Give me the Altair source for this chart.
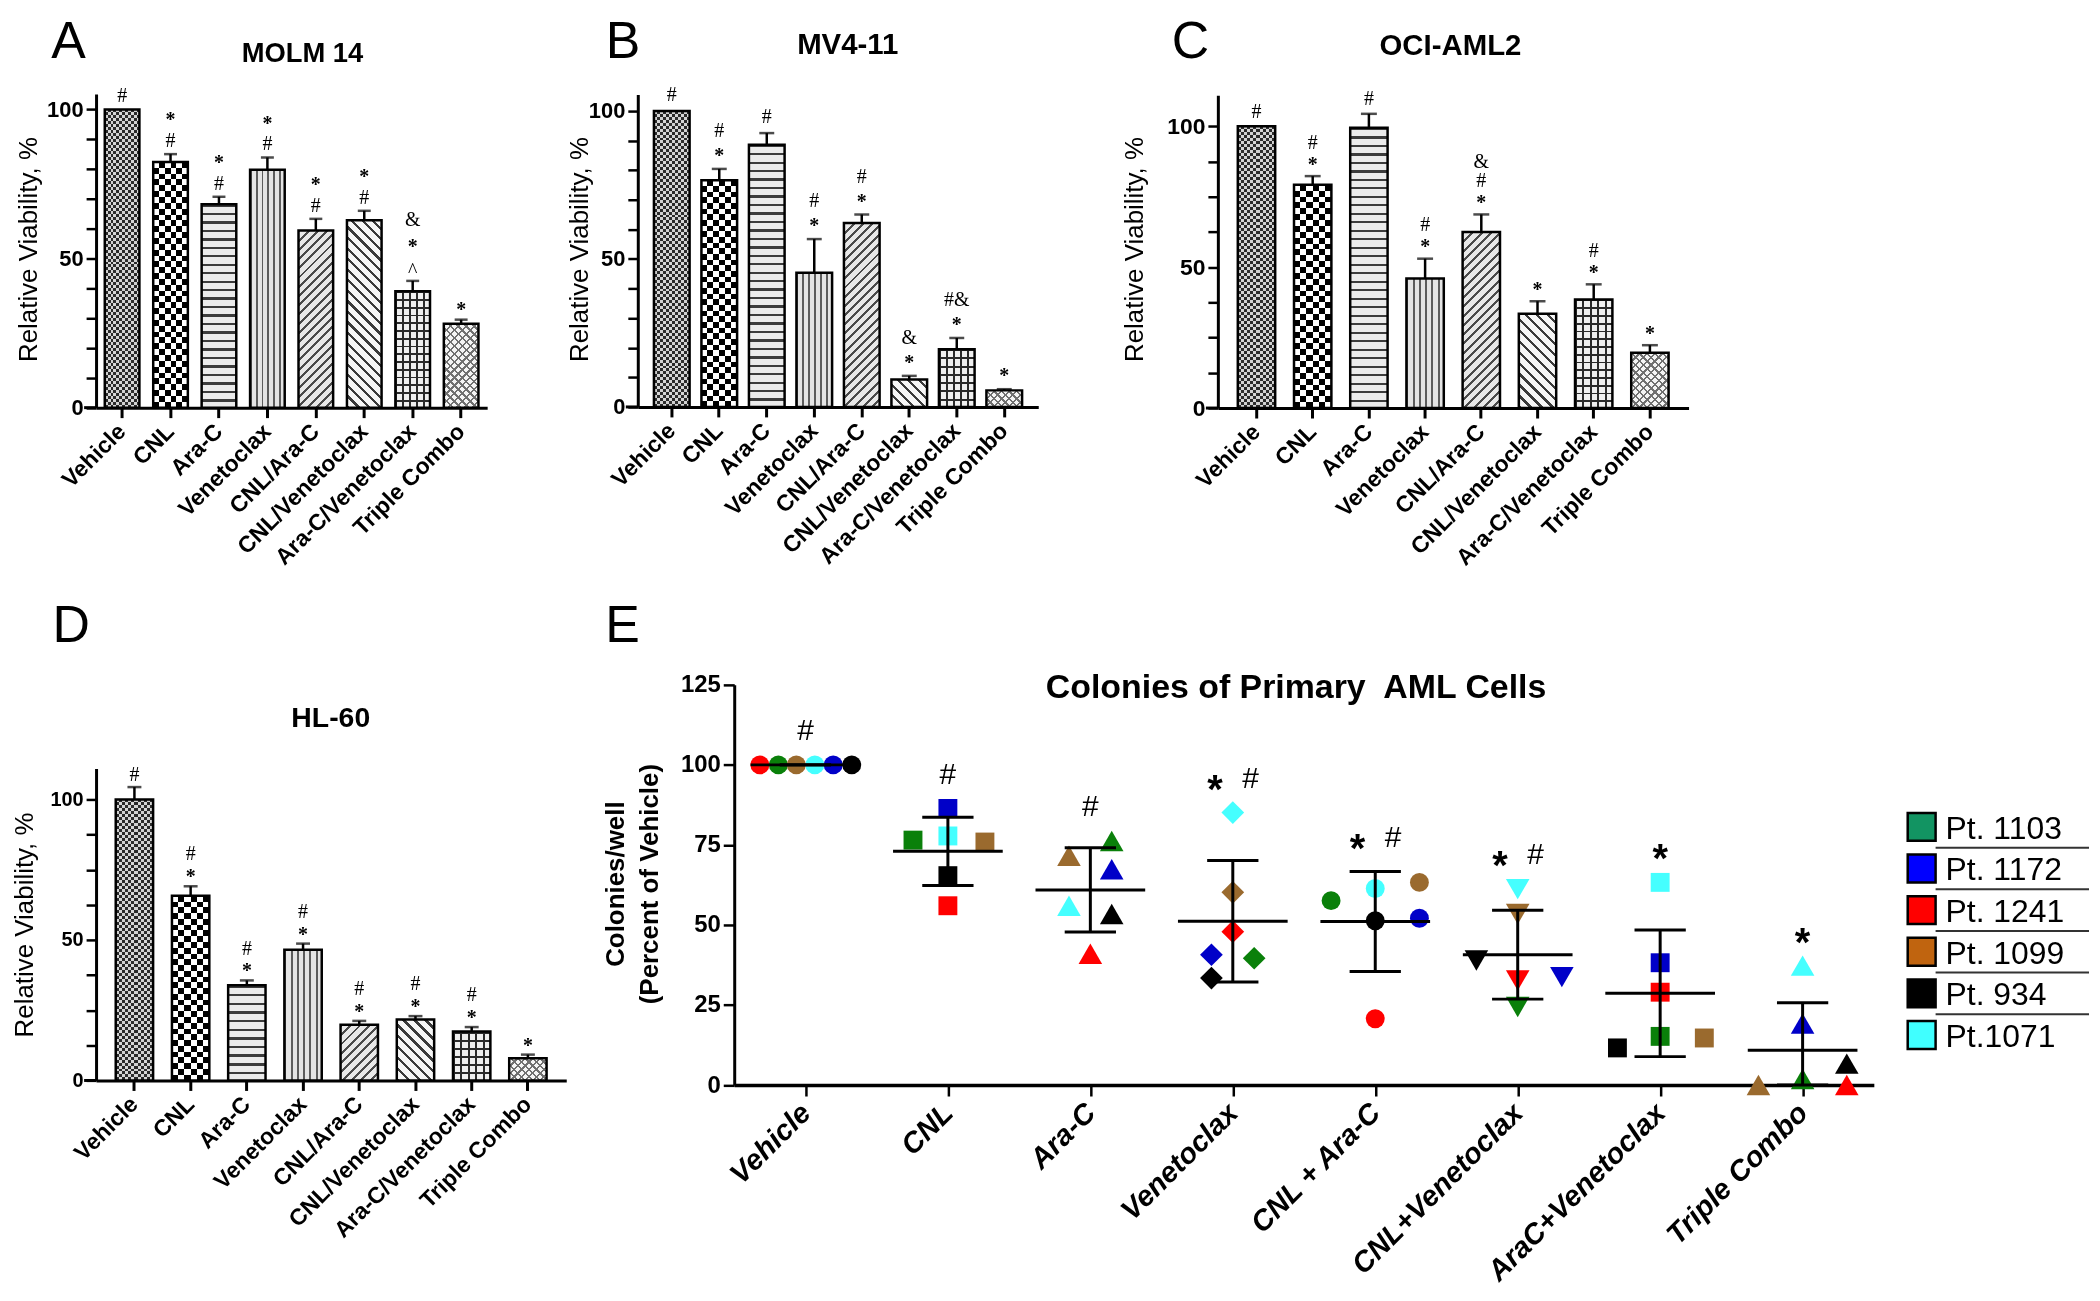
import json
import math
import pandas as pd
import altair as alt

FONT = "Liberation Sans"
SERIF = "Liberation Serif"
TOTAL_W, TOTAL_H = 2092, 1293   # drawing frame (page minus 8px margin)
M = 8                           # page margin

# ---------------- data: panels A-D (bar charts) ----------------
categories = ["Vehicle", "CNL", "Ara-C", "Venetoclax", "CNL/Ara-C",
              "CNL/Venetoclax", "Ara-C/Venetoclax", "Triple Combo"]
patterns = ["fine_check", "bold_check", "h_lines", "v_lines",
            "diag_up", "diag_down", "grid", "cross"]

a_title = "MOLM 14"
a_mean = [100, 82.4, 68.2, 79.8, 59.4, 62.8, 39.0, 28.1]
a_sem = [0, 2.6, 2.5, 4.1, 3.9, 3.2, 3.5, 1.4]
a_marks = [["#"], ["#", "*"], ["#", "*"], ["#", "*"], ["#", "*"], ["#", "*"], ["^", "*", "&"], ["*"]]

b_title = "MV4-11"
b_mean = [100, 76.6, 88.6, 45.3, 62.1, 9.3, 19.5, 5.6]
b_sem = [0, 3.8, 3.9, 11.4, 2.9, 1.2, 3.8, 0.4]
b_marks = [["#"], ["*", "#"], ["#"], ["*", "#"], ["*", "#"], ["*", "&"], ["*", "#&"], ["*"]]

c_title = "OCI-AML2"
c_mean = [100, 79.2, 99.5, 46.0, 62.5, 33.5, 38.5, 19.6]
c_sem = [0, 3.1, 4.9, 7.0, 6.2, 4.4, 5.4, 2.7]
c_marks = [["#"], ["*", "#"], ["#"], ["*", "#"], ["*", "#", "&"], ["*"], ["*", "#"], ["*"]]

d_title = "HL-60"
d_mean = [100, 65.7, 33.9, 46.5, 19.8, 21.7, 17.4, 7.9]
d_sem = [4.4, 3.4, 1.7, 2.2, 1.4, 1.2, 1.6, 1.3]
d_marks = [["#"], ["*", "#"], ["*", "#"], ["*", "#"], ["*", "#"], ["*", "#"], ["*", "#"], ["*"]]

# ---------------- data: panel E (primary AML colonies) ----------------
e_title = "Colonies of Primary\u00a0 AML Cells"
e_groups = ["Vehicle", "CNL", "Ara-C", "Venetoclax", "CNL + Ara-C",
            "CNL+Venetoclax", "AraC+Venetoclax", "Triple Combo"]
e_shapes = ["circle", "square", "triangle-up", "diamond", "circle",
            "triangle-down", "square", "triangle-up"]
patients = ["Pt. 1103", "Pt. 1172", "Pt. 1241", "Pt. 1099", "Pt. 934", "Pt.1071"]
point_colors = ["#0a800a", "#0000c8", "#ff0000", "#9a6a2e", "#000000", "#45ffff"]
legend_colors = ["#129462", "#0000ff", "#ff0000", "#c0640f", "#000000", "#40ffff"]

e_vehicle = [100, 100, 100, 100, 100, 100]
e_cnl = [76.5, 86.4, 56.0, 75.9, 65.4, 77.8]
e_arac = [76.2, 67.4, 41.0, 71.6, 53.4, 56.0]
e_ven = [39.6, 40.7, 47.9, 60.2, 33.4, 85.1]
e_cnl_arac = [57.6, 52.1, 20.7, 63.3, 51.3, 61.4]
e_cnl_ven = [24.4, 33.7, 32.7, 53.4, 38.9, 61.2]
e_arac_ven = [15.2, 38.2, 29.0, 14.7, 11.6, 63.3]
e_triple = [1.9, 19.2, 0.0, 0.0, 6.7, 37.3]
e_spread = [
    [-0.19, 0.195, -0.32, -0.064, 0.325, 0.066],
    [-0.245, 0.0, 0.0, 0.26, 0.0, 0.0],
    [0.15, 0.15, 0.0, -0.15, 0.15, -0.15],
    [0.15, -0.15, 0.0, 0.0, -0.15, 0.0],
    [-0.31, 0.31, 0.0, 0.31, 0.0, 0.0],
    [0.0, 0.31, 0.0, 0.0, -0.29, 0.0],
    [0.0, 0.0, 0.0, 0.31, -0.30, 0.0],
    [0.0, 0.0, 0.31, -0.31, 0.31, 0.0],
]
e_marks = [["#"], ["#"], ["#"], ["*", "#"], ["*", "#"], ["*", "#"], ["*"], ["*"]]

# ---------------- pattern fills (linear gradients with hard stops) ----------------
CLEAR = "rgba(255,255,255,0)"


def periodic(n, duty, on, off):
    st = []
    for k in range(n):
        a, b, c = k / n, (k + duty) / n, (k + 1) / n
        st += [{"offset": round(a, 5), "color": on}, {"offset": round(b, 5), "color": on},
               {"offset": round(b, 5), "color": off}, {"offset": round(c, 5), "color": off}]
    return st


def grad(x1, y1, x2, y2, stops):
    return {"gradient": "linear", "x1": x1, "y1": y1, "x2": x2, "y2": y2, "stops": stops}


def hstripes(w, h, s, duty, on, off):
    return grad(0, 0, 0, 1, periodic(max(1, int(round(h / s))), duty, on, off))


def vstripes(w, h, s, duty, on, off):
    return grad(0, 0, 1, 0, periodic(max(1, int(round(w / s))), duty, on, off))


def dstripes(w, h, s, duty, on, off, up=True):
    k = (w + h) / (w * w + h * h)
    n = max(1, int(round((w + h) / (math.sqrt(2) * s))))
    if up:
        return grad(0, 0, round(w * k, 5), round(h * k, 5), periodic(n, duty, on, off))
    return grad(0, 1, round(w * k, 5), round(1 - h * k, 5), periodic(n, duty, on, off))


def pattern_fills(kind, w, h):
    if h <= 0.5:
        return []
    if kind == "fine_check":
        return [(hstripes(w, h, 6, 0.5, "#2e2e2e", "#d6d6d6"), None),
                (vstripes(w, h, 6, 0.5, "#ffffff", CLEAR), "difference")]
    if kind == "bold_check":
        return [(hstripes(w, h, 11.6, 0.5, "#000000", "#ffffff"), None),
                (vstripes(w, h, 11.6, 0.5, "#ffffff", CLEAR), "difference")]
    if kind == "h_lines":
        return [(hstripes(w, h, 8.5, 0.28, "#3c3c3c", "#ebebeb"), None)]
    if kind == "v_lines":
        return [(vstripes(w, h, 6.2, 0.32, "#5c5c5c", "#e4e4e4"), None)]
    if kind == "diag_up":
        return [(dstripes(w, h, 6.5, 0.32, "#4a4a4a", "#e8e8e8", True), None)]
    if kind == "diag_down":
        return [(dstripes(w, h, 7.5, 0.3, "#3a3a3a", "#f6f6f6", False), None)]
    if kind == "grid":
        return [(hstripes(w, h, 8, 0.24, "#2a2a2a", "#efefef"), None),
                (vstripes(w, h, 7.5, 0.24, "#2a2a2a", CLEAR), None)]
    return [(dstripes(w, h, 5.5, 0.3, "#707070", "#f4f4f4", True), None),
            (dstripes(w, h, 5.5, 0.3, "#707070", CLEAR, False), None)]


def label_layer(text, x, y, size, weight="normal", baseline="middle", angle=0, font=FONT):
    kw = dict(font=font, fontSize=size, fontWeight=weight, baseline=baseline,
              align="center", color="black")
    if angle:
        kw["angle"] = angle
    return alt.Chart(pd.DataFrame({"t": [text]})).mark_text(**kw).encode(
        text="t:N", x=alt.value(x - M), y=alt.value(y - M))


# ---------------- bar panels ----------------
def bar_panel(p):
    n = len(categories)
    W, ppu = p["width"], p["ppu"]
    x0, y0 = p["x0"] - M, p["y0"] - M
    ytop = y0 - p["axis_top"] * ppu
    pin, pout = p["pin"], p["pout"]
    step = W / (n - pin + 2 * pout)
    bw = step * (1 - pin)
    df = pd.DataFrame({"cat": categories, "mean": p["mean"], "sem": p["sem"]})
    df["top"] = df["mean"] + df["sem"]

    xscale = alt.Scale(domain=categories, range=[x0, x0 + W], paddingInner=pin, paddingOuter=pout)
    yscale = alt.Scale(domain=[0, p["axis_top"]], range=[y0, ytop], nice=False, zero=False)
    x_ax = alt.Axis(
        orient="bottom", offset=y0 - TOTAL_H,
        labelAngle=-45, labelAlign="right", labelBaseline="middle", labelFont=FONT,
        labelFontWeight="bold", labelFontSize=p["xlabel_size"], labelPadding=10,
        labelOverlap=False, labelLimit=400, tickSize=10, tickWidth=3, domainWidth=3)
    tick_vals = [round(i * p["ystep"], 3) for i in range(int(p["axis_top"] / p["ystep"] + 1e-6) + 1)]
    y_ax = alt.Axis(
        orient="left", offset=-x0,
        values=tick_vals, labelExpr="datum.value % 50 === 0 ? datum.label : ''",
        labelFont=FONT, labelFontWeight="bold", labelFontSize=p["ylabel_size"],
        labelPadding=3, labelOverlap=False, tickSize=10, tickWidth=2.5, domainWidth=3)
    X = lambda: alt.X("cat:N", sort=categories, scale=xscale, title=None, axis=x_ax)
    Y = lambda f: alt.Y(f, scale=yscale, title=None, axis=y_ax)

    layers = []
    for i, cat in enumerate(categories):
        h = p["mean"][i] * ppu
        for fill, blend in pattern_fills(patterns[i], bw, h):
            kw = {"fill": fill, "strokeWidth": 0}
            if blend:
                kw["blend"] = blend
            layers.append(alt.Chart(df).transform_filter(alt.datum.cat == cat)
                          .mark_bar(**kw).encode(x=X(), y=Y("mean:Q")))
    layers.append(alt.Chart(df).mark_bar(fillOpacity=0, stroke="black", strokeWidth=2.5)
                  .encode(x=X(), y=Y("mean:Q")))

    err = df[df["sem"] > 0]
    layers.append(alt.Chart(err).mark_rule(strokeWidth=2.5, color="black").encode(
        x=X(), y=Y("mean:Q"), y2="top:Q"))
    layers.append(alt.Chart(err).mark_tick(orient="horizontal", size=p["capw"], thickness=2.5,
                                           color="black").encode(x=X(), y=Y("top:Q")))

    rows = []
    for i, cat in enumerate(categories):
        for lvl, s in enumerate(p["marks"][i]):
            kind = "star" if s == "*" else ("caret" if s == "^" else "plain")
            rows.append({"cat": cat, "sym": s, "level": lvl, "kind": kind,
                         "top": p["mean"][i] + p["sem"][i]})
    ann = pd.DataFrame(rows)
    for lvl in range(3):
        for kind, adj in [("plain", 0), ("star", 3), ("caret", 3)]:
            sub = ann[(ann["level"] == lvl) & (ann["kind"] == kind)]
            if len(sub) == 0:
                continue
            layers.append(alt.Chart(sub).mark_text(
                font=SERIF, fontSize=20, fontWeight="bold" if kind == "star" else "normal",
                baseline="middle", align="center", color="black",
                dy=-(p["gap0"] + lvl * p["gap"]) + adj).encode(
                x=X(), y=Y("top:Q"), text="sym:N"))

    # short stub of the category axis reaching left of the value axis
    layers.append(alt.Chart(pd.DataFrame({"z": [0]})).mark_rule(strokeWidth=3, color="black")
                  .encode(x=alt.value(x0 - 12), x2=alt.value(x0), y=alt.value(y0)))
    layers.append(label_layer(p["title"], *p["title_xy"], p["title_size"], weight="bold"))
    layers.append(label_layer(p["letter"], *p["letter_xy"], 52, baseline="alphabetic"))
    layers.append(label_layer("Relative Viability, %", *p["ytitle_xy"], 26, angle=270))
    return alt.layer(*layers)


panel_cfg = [
    dict(letter="A", title=a_title, mean=a_mean, sem=a_sem, marks=a_marks,
         x0=96.4, y0=406.7, width=392.6, ppu=2.994, axis_top=105.2, ystep=10,
         pin=0.285, pout=0.18, title_xy=(303.6, 51.7), title_size=27.5,
         letter_xy=(68.8, 56), ytitle_xy=(29, 248), ylabel_size=22, xlabel_size=23,
         gap0=13, gap=24, capw=13),
    dict(letter="B", title=b_title, mean=b_mean, sem=b_sem, marks=b_marks,
         x0=640.2, y0=406.0, width=402, ppu=2.972, axis_top=105.5, ystep=10,
         pin=0.249, pout=0.34, title_xy=(851, 42.9), title_size=29.5,
         letter_xy=(625.4, 56), ytitle_xy=(582.4, 248), ylabel_size=22, xlabel_size=23,
         gap0=16, gap=22, capw=15),
    dict(letter="C", title=c_title, mean=c_mean, sem=c_sem, marks=c_marks,
         x0=1222.5, y0=407.1, width=472.5, ppu=2.829, axis_top=111, ystep=12.5,
         pin=0.335, pout=0.355, title_xy=(1456, 43.5), title_size=29.5,
         letter_xy=(1195, 56), ytitle_xy=(1139.5, 248), ylabel_size=23, xlabel_size=23,
         gap0=14.5, gap=19, capw=16),
    dict(letter="D", title=d_title, mean=d_mean, sem=d_sem, marks=d_marks,
         x0=96.4, y0=1082.1, width=472, ppu=2.821, axis_top=111, ystep=12.5,
         pin=0.335, pout=0.35, title_xy=(332, 718.3), title_size=28.5,
         letter_xy=(71.4, 642), ytitle_xy=(25, 926), ylabel_size=20, xlabel_size=23,
         gap0=12, gap=20, capw=14),
]
A, B, C, D = [bar_panel(p) for p in panel_cfg]


# ---------------- panel E ----------------
def e_panel():
    x0, y0, W, ppu = 737 - M, 1086.7 - M, 1144, 3.214
    values = [e_vehicle, e_cnl, e_arac, e_ven, e_cnl_arac, e_cnl_ven, e_arac_ven, e_triple]
    rows = []
    for gi, g in enumerate(e_groups):
        for pj, pt in enumerate(patients):
            rows.append({"group": g, "gi": gi, "patient": pt, "val": values[gi][pj],
                         "xpos": gi + e_spread[gi][pj], "shape": e_shapes[gi]})
    pts = pd.DataFrame(rows)
    st = pts.groupby("gi")["val"].agg(["mean", "std", "max"]).reset_index()
    st["hi"] = st["mean"] + st["std"]
    st["lo"] = (st["mean"] - st["std"]).clip(lower=0)
    st["ml"], st["mr"] = st["gi"] - 0.385, st["gi"] + 0.385
    st["cl"], st["cr"] = st["gi"] - 0.18, st["gi"] + 0.18

    xscale = alt.Scale(domain=[-0.5, 7.5], range=[x0, x0 + W], nice=False, zero=False)
    yscale = alt.Scale(domain=[0, 125], range=[y0, y0 - 125 * ppu], nice=False, zero=False)
    label_expr = "[" + ",".join(json.dumps(g) for g in e_groups) + "][datum.value]"
    x_ax = alt.Axis(
        orient="bottom", offset=y0 - TOTAL_H,
        values=list(range(8)), labelExpr=label_expr, labelAngle=-45, labelAlign="right",
        labelBaseline="middle", labelFont=FONT, labelFontWeight="bold",
        labelFontStyle="italic", labelFontSize=29, labelPadding=12, labelLimit=500,
        labelOverlap=False, labelFlush=False, tickSize=11, tickWidth=2.5, domainWidth=3.5)
    y_ax = alt.Axis(
        orient="left", offset=-x0,
        values=[0, 25, 50, 75, 100, 125], labelFont=FONT, labelFontWeight="bold",
        labelFontSize=24, labelPadding=3, labelOverlap=False, labelFlush=False,
        tickSize=11, tickWidth=2.5, domainWidth=3)
    xq = lambda f: alt.X(f, scale=xscale, title=None, axis=x_ax)
    yq = lambda f: alt.Y(f, scale=yscale, title=None, axis=y_ax)
    color = alt.Color("patient:N", scale=alt.Scale(domain=patients, range=point_colors), legend=None)

    sizes = {"circle": 360, "square": 360, "triangle-up": 560, "diamond": 520, "triangle-down": 560}
    layers = []
    for shp in ["circle", "square", "triangle-up", "diamond", "triangle-down"]:
        sub = pts[pts["shape"] == shp]
        layers.append(alt.Chart(sub).mark_point(shape=shp, filled=True, size=sizes[shp],
                                                opacity=1, strokeWidth=0)
                      .encode(x=xq("xpos:Q"), y=yq("val:Q"), color=color))
    line = dict(strokeWidth=3, color="black")
    layers.append(alt.Chart(st).mark_rule(**line).encode(x=xq("ml:Q"), x2="mr:Q", y=yq("mean:Q")))
    layers.append(alt.Chart(st).mark_rule(**line).encode(x=xq("gi:Q"), y=yq("lo:Q"), y2="hi:Q"))
    layers.append(alt.Chart(st).mark_rule(**line).encode(x=xq("cl:Q"), x2="cr:Q", y=yq("hi:Q")))
    layers.append(alt.Chart(st).mark_rule(**line).encode(x=xq("cl:Q"), x2="cr:Q", y=yq("lo:Q")))

    arows = []
    for gi, syms in enumerate(e_marks):
        top = max(st.loc[gi, "hi"], st.loc[gi, "max"])
        k = len(syms)
        for j, s in enumerate(syms):
            arows.append({"x": gi + (j - (k - 1) / 2) * 0.25, "y": top, "sym": s, "star": s == "*"})
    ann = pd.DataFrame(arows)
    layers.append(alt.Chart(ann[~ann["star"]]).mark_text(
        font=FONT, fontSize=30, baseline="middle", align="center", color="black", dy=-34)
        .encode(x=xq("x:Q"), y=yq("y:Q"), text="sym:N"))
    layers.append(alt.Chart(ann[ann["star"]]).mark_text(
        font=FONT, fontSize=40, fontWeight="bold", baseline="middle", align="center",
        color="black", dy=-22).encode(x=xq("x:Q"), y=yq("y:Q"), text="sym:N"))

    layers.append(label_layer(e_title, 1301, 688, 34, weight="bold"))
    layers.append(label_layer("E", 625, 642, 52, baseline="alphabetic"))
    layers.append(label_layer("Colonies/well", 618, 885, 26, weight="bold", angle=270))
    layers.append(label_layer("(Percent of Vehicle)", 652, 885, 26, weight="bold", angle=270))
    return alt.layer(*layers)


E = e_panel()

# ---------------- legend ----------------
leg_df = pd.DataFrame({"patient": patients})
leg_top = 827.5 - M - 20.9
leg_scale = alt.Scale(domain=patients, range=[leg_top, leg_top + 6 * 41.8], paddingInner=0, paddingOuter=0)
leg_y = alt.Y("patient:N", sort=patients, scale=leg_scale, axis=None)
LEG = alt.layer(
    alt.Chart(leg_df).mark_square(size=784, filled=True, stroke="black", strokeWidth=2.5, opacity=1)
    .encode(x=alt.value(1929 - M), y=leg_y,
            fill=alt.Fill("patient:N", scale=alt.Scale(domain=patients, range=legend_colors), legend=None)),
    alt.Chart(leg_df).mark_text(align="left", baseline="middle", font=FONT, fontSize=32, color="black", dy=2)
    .encode(x=alt.value(1953 - M), y=leg_y, text="patient:N"),
    alt.Chart(leg_df.iloc[:5]).mark_rule(color="#333333", strokeWidth=2)
    .encode(x=alt.value(1943 - M), x2=alt.value(2097 - M),
            y=alt.Y("patient:N", sort=patients, scale=leg_scale, axis=None, bandPosition=1)),
)

chart = alt.layer(A, B, C, D, E, LEG).resolve_scale(
    x="independent", y="independent", color="independent", fill="independent"
).resolve_axis(
    x="independent", y="independent"
).properties(
    width=TOTAL_W, height=TOTAL_H,
    autosize=alt.AutoSizeParams(type="none"), padding=0,
).configure_view(strokeWidth=0).configure_axis(
    grid=False, domainColor="black", tickColor="black", labelColor="black", titleColor="black"
)

chart.save("out.html", embed_options={"renderer": "svg", "actions": False})
